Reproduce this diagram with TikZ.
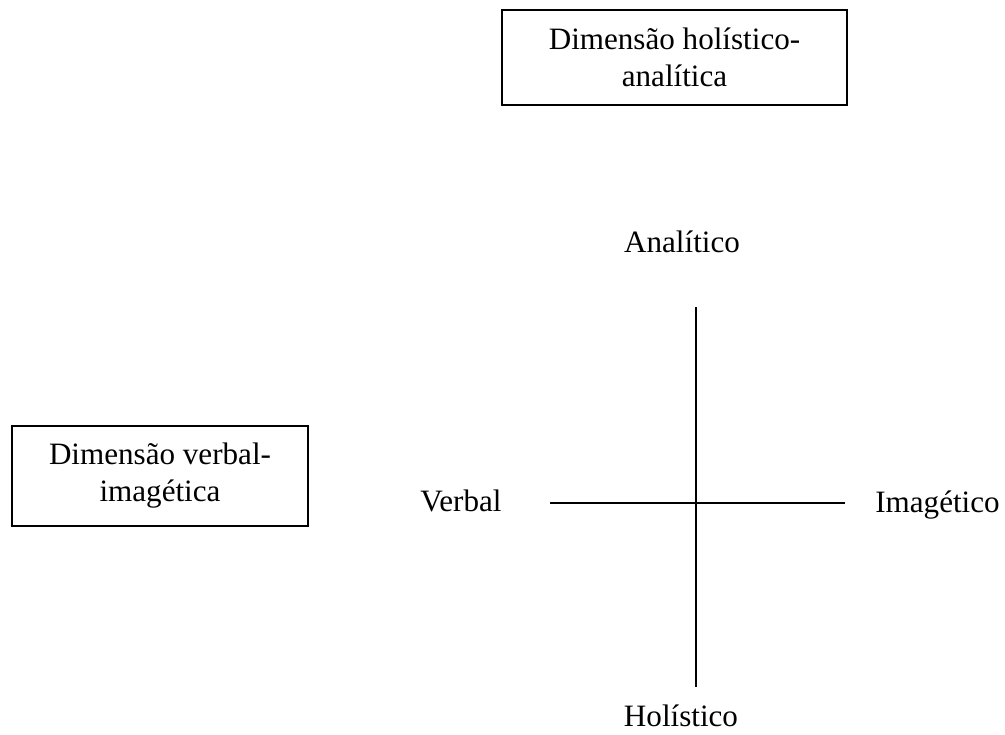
\documentclass[tikz,border=0pt]{standalone}
\usepackage{fontspec}
\setmainfont{Liberation Serif}
\usetikzlibrary{positioning}

\tikzset{
  dimbox/.style={draw, line width=0.6pt, align=center, inner sep=0pt},
  axislbl/.style={inner sep=0pt},
  axisline/.style={line width=0.6pt}
}

\begin{document}
\begin{tikzpicture}[font=\fontsize{17.7}{21}\selectfont]
    \useasboundingbox (0,0) rectangle (20.1,14.7);
    % caixas das dimensoes
    \node[dimbox, minimum width=6.9cm, minimum height=1.9cm] (holbox) at (13.49,13.55) {Dimensão holístico-\\analítica};
    \node[dimbox, minimum width=5.92cm, minimum height=2.0cm] (verbox) at (3.2,5.18) {Dimensão verbal-\\imagética};

    % eixos
    \coordinate (vtop) at (13.92,8.56);
    \coordinate (vbot) at (13.92,0.96);
    \coordinate (hleft) at (11.0,4.64);
    \coordinate (hright) at (16.9,4.64);
    \draw[axisline] (vtop) -- (vbot);
    \draw[axisline] (hleft) -- (hright);

    \node[axislbl, anchor=base] (anal) at (13.64,9.64) {Analítico};
    \node[axislbl, anchor=base] (holi) at (13.62,0.16) {Holístico};
    \node[axislbl, anchor=base west] (verb) at (8.4,4.46) {Verbal};
    \node[axislbl, anchor=base west] (imag) at (17.5,4.44) {Imagético};
\end{tikzpicture}
\end{document}
